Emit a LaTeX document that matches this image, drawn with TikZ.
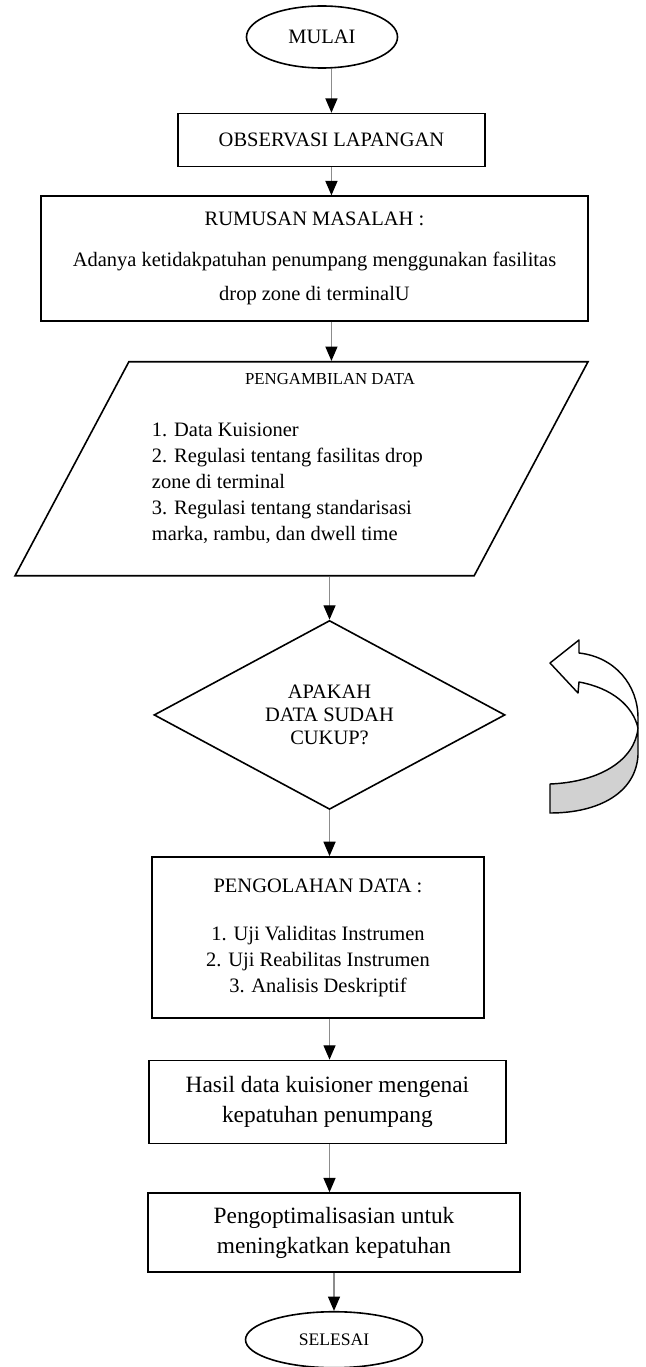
\documentclass[tikz,border=0pt]{standalone}
\usepackage{fontspec}
\setmainfont{Liberation Serif}
\usetikzlibrary{positioning,shapes.geometric,arrows.meta}

\begin{document}
\begin{tikzpicture}[x=0.625pt, y=-0.625pt,
  terminal/.style={draw, line width=1pt, ellipse, inner sep=0pt},
  process/.style={draw, line width=1pt, rectangle, inner sep=0pt, align=center, font=\fontsize{12.8}{16.25}\selectfont},
  inout/.style={draw, line width=1pt, trapezium, trapezium left angle=59.3, trapezium right angle=120.7, trapezium stretches body, inner sep=0pt, font=\fontsize{12.8}{16.25}\selectfont},
  decision/.style={draw, line width=1pt, diamond, inner sep=0pt, align=center},
  flow/.style={draw=black!45, line width=0.9pt, -{Triangle[length=9pt, width=7.5pt, color=black]}}]
\useasboundingbox (0,0) rectangle (645,1367);
\node[terminal, minimum width=94.4pt, minimum height=38.75pt, font=\fontsize{12.8}{15}\selectfont] (mulai) at (322,37) {MULAI};
\node[process, below=27.5pt of mulai, xshift=5.9pt, minimum width=191.9pt, minimum height=33.1pt] (observasi) {OBSERVASI LAPANGAN};
\node[process, below=17.5pt of observasi, xshift=-10.6pt, minimum width=341.9pt, minimum height=78.1pt] (rumusan) {RUMUSAN MASALAH :\\[9.6pt] Adanya ketidakpatuhan penumpang menggunakan fasilitas\\[5pt] drop zone di terminalU};
\node[inout, below=24.4pt of rumusan, xshift=-8.1pt, minimum width=358.1pt, minimum height=133.75pt] (data) {\begin{minipage}{186.9pt}
\centering\hspace*{35.6pt}{\fontsize{10.5}{12.6}\selectfont PENGAMBILAN DATA}\par
\vspace{16.75pt}
\raggedright\noindent\begin{tabular}[t]{@{}l@{}}
1. Data Kuisioner\\
2. Regulasi tentang fasilitas drop\\
zone di terminal\\
3. Regulasi tentang standarisasi\\
marka, rambu, dan dwell time
\end{tabular}\par\kern10pt
\end{minipage}};
\node[decision, below=26.9pt of data, xshift=17.5pt, minimum width=219.4pt, minimum height=118.1pt, aspect=1.86, font=\fontsize{12.8}{14.4}\selectfont] (cukup) {APAKAH\\DATA SUDAH\\CUKUP?};
\node[process, below=28.7pt of cukup, xshift=-7.2pt, minimum width=207.5pt, minimum height=100.6pt] (olah) {PENGOLAHAN DATA :\\[13.75pt] 1. Uji Validitas Instrumen\\ 2. Uji Reabilitas Instrumen\\ 3. Analisis Deskriptif};
\node[process, below=25.6pt of olah, xshift=5.9pt, minimum width=223.1pt, minimum height=51.9pt, font=\fontsize{14.6}{18.75}\selectfont] (hasil) {Hasil data kuisioner mengenai\\kepatuhan penumpang};
\node[process, below=30pt of hasil, xshift=4.1pt, minimum width=232.5pt, minimum height=49.4pt, font=\fontsize{14.6}{18.75}\selectfont] (optimal) {Pengoptimalisasian untuk\\meningkatkan kepatuhan};
\node[terminal, below=23.75pt of optimal, minimum width=110.6pt, minimum height=35pt, font=\fontsize{11}{13}\selectfont] (selesai) {SELESAI};
\draw[flow] (mulai.south -| observasi) -- (observasi);
\draw[flow] (observasi) -- (observasi |- rumusan.north);
\draw[flow] (rumusan.south -| observasi) -- (data.north -| observasi);
\draw[flow] (data.south -| cukup) -- (cukup);
\draw[flow] (cukup) -- (cukup |- olah.north);
\draw[flow] (olah.south -| cukup) -- (hasil.north -| cukup);
\draw[flow] (hasil.south -| cukup) -- (optimal.north -| cukup);
\draw[flow] (optimal) -- (selesai);
\draw[line width=0.9pt, fill=black!18, line join=round] (550,784) .. controls (600,782) and (635,760) .. (638,728) -- (638,755) .. controls (636,792) and (600,813) .. (550,813) -- cycle;
\draw[line width=0.9pt, fill=white, line join=round] (579,640) -- (579,653) .. controls (615,657) and (638,685) .. (638,718) -- (638,728) .. controls (633,706) and (612,688) .. (579,682) -- (578,693) -- (550,663) -- cycle;
\end{tikzpicture}
\end{document}
